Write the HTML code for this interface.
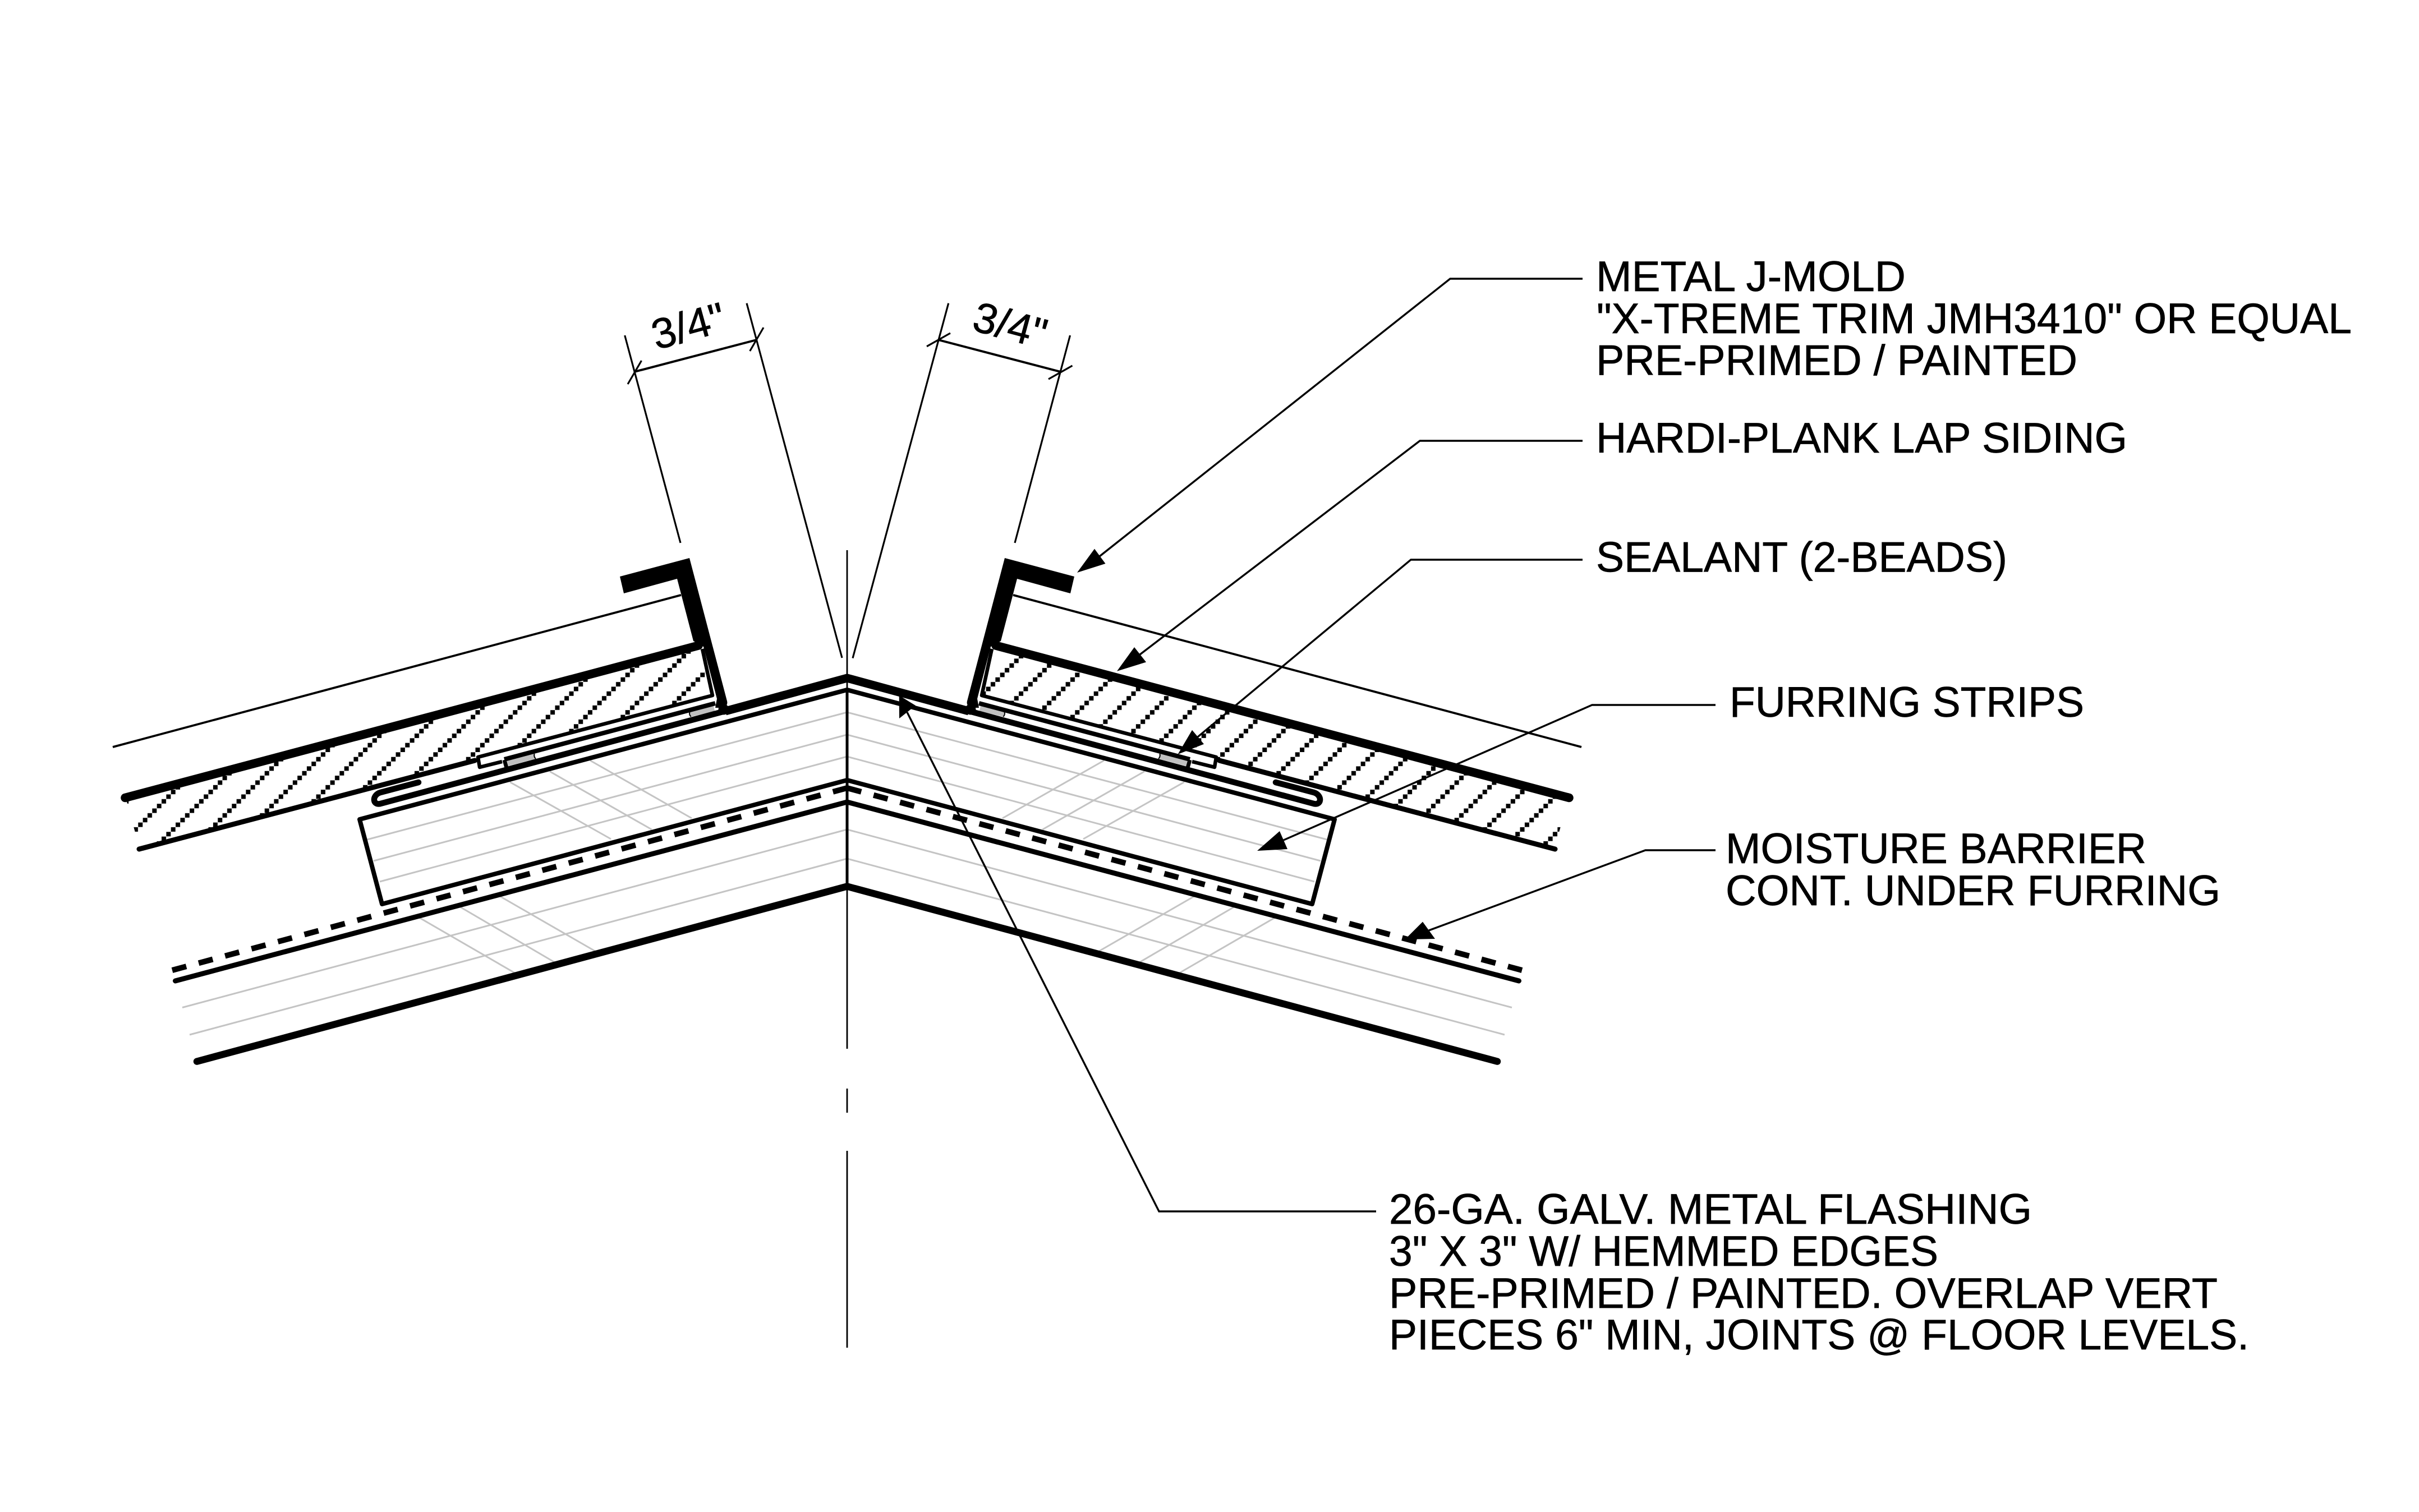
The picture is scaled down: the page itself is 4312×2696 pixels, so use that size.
<!DOCTYPE html>
<html lang="en">
<head>
<meta charset="utf-8">
<title>J-Mold Corner Detail</title>
<style>
html,body{margin:0;padding:0;background:#fff;}
svg{display:block;}
text{font-family:"Liberation Sans",Arial,sans-serif;font-size:76px;fill:#000;stroke:#000;stroke-width:0.7px;}
</style>
</head>
<body>
<svg xmlns="http://www.w3.org/2000/svg" width="4312" height="2696" viewBox="0 0 4312 2696">
<defs>
<pattern id="hatch" patternUnits="userSpaceOnUse" x="847.5" y="1266.2" width="66.8" height="66.8">
<rect x="0" y="0" width="8" height="8"/>
<rect x="8.35" y="58.45" width="8" height="8"/>
<rect x="16.7" y="50.1" width="8" height="8"/>
<rect x="25.05" y="41.75" width="8" height="8"/>
<rect x="33.4" y="33.4" width="8" height="8"/>
<rect x="41.75" y="25.05" width="8" height="8"/>
<rect x="50.1" y="16.7" width="8" height="8"/>
<rect x="58.45" y="8.35" width="8" height="8"/>
</pattern>
<g id="half">
<!-- gray wood grain -->
<g stroke="#c4c4c4" stroke-width="3" fill="none">
<path d="M654.5 1497L1510 1270M666 1535L1510 1310M677 1572L1510 1349"/>
<path d="M909 1394.5L1089 1496M980 1375.6L1161.6 1479M1052 1356L1233 1459"/>
<path d="M325 1796.5L1510 1479M338 1845L1510 1531"/>
<path d="M748 1636.6L918 1735M820 1617L989 1716M891 1598L1061 1696"/>
</g>
<!-- sealant beads -->
<polygon points="903.6,1356.7 952.7,1344 955,1353 906,1365.7" fill="#c0c0c0"/>
<polygon points="1229.5,1270 1272,1258 1274,1268 1231.7,1278" fill="#c0c0c0"/>
<path d="M952.7 1344Q951 1349 955 1353M1229.5 1270Q1228 1274 1231.7 1278" stroke="#000" stroke-width="2" fill="none"/>
<!-- thin top line -->
<path d="M201 1332L1214 1061" stroke="#000" stroke-width="3.8" fill="none"/>
<!-- hardi plank -->
<path d="M223 1422.5L1245 1151" stroke="#000" stroke-width="15.5" stroke-linecap="round" fill="none"/>
<path d="M248 1514L846.4 1356" stroke="#000" stroke-width="9" stroke-linecap="round" fill="none"/>
<path d="M1252 1157L1270 1240L852 1350L855 1368L895 1358" stroke="#000" stroke-width="6.5" fill="none" stroke-linejoin="round"/>
<!-- j-flange -->
<path d="M899 1354L1275 1254" stroke="#000" stroke-width="8" fill="none"/>
<path d="M899 1355L903 1369" stroke="#000" stroke-width="7" fill="none"/>
<!-- flashing with hem -->
<path d="M746 1395L678 1413C662 1418 664 1438 680 1432.5L1296 1267" stroke="#000" stroke-width="10.5" fill="none" stroke-linecap="round"/>
<!-- J-mold -->
<path d="M1105 1028L1229 995L1296 1250Q1298 1258 1290 1262L1275 1262L1278 1246L1254 1153L1236 1143L1207 1032L1112 1058Z" fill="#000"/>
<circle cx="1290" cy="1265" r="9.5" fill="#000"/>
<!-- moisture barrier -->
<path d="M307 1730L1510 1405" stroke="#000" stroke-width="10" fill="none" stroke-dasharray="26 22.8"/>
</g>
</defs>
<rect width="4312" height="2696" fill="#fff"/>

<!-- hatch -->
<polygon points="225,1426 1245,1153 1268,1240 852,1350 846,1357 248,1510" fill="url(#hatch)"/>
<polygon points="2795,1426 1775,1153 1752,1240 2168,1350 2174,1357 2772,1510" fill="url(#hatch)"/>

<use href="#half"/>
<use href="#half" transform="matrix(-1 0 0 1 3020 0)"/>

<!-- chevrons -->
<path d="M1293 1268L1510 1209L1727 1268" stroke="#000" stroke-width="15" fill="none" stroke-linejoin="miter"/>
<path d="M641 1461L1510 1230L2379 1461L2339 1612L1510 1391L681 1612Z" stroke="#000" stroke-width="8" fill="none" stroke-linejoin="round"/>
<path d="M312.5 1749L1510 1430L2707.5 1749" stroke="#000" stroke-width="9" fill="none" stroke-linecap="round"/>
<path d="M351 1892.6L1510 1580.5L2669 1892.6" stroke="#000" stroke-width="12.5" fill="none" stroke-linecap="round"/>

<!-- centre line -->
<path d="M1510 981V1870M1510 1941V1984M1510 2052V2403" stroke="#000" stroke-width="2.8" fill="none"/>
<path d="M1510 1230V1580" stroke="#000" stroke-width="5" fill="none"/>

<!-- dimensions -->
<g stroke="#000" fill="none">
<path d="M1113.7 598L1213 968M1331 540.7L1501 1173M1690.7 540.7L1520 1173.6M1907.5 598L1809 968" stroke-width="3.2"/>
<path d="M1130.6 663L1348.5 606M1672.7 606L1890.7 663" stroke-width="4"/>
<path d="M1119 685L1143.5 643M1336.7 626L1361 584M1652 617.7L1694 594M1869 676L1911.5 652" stroke-width="3.2"/>
</g>
<text x="1170" y="624" transform="rotate(-15.3 1170 624)">3/4"</text>
<text x="1730" y="588" transform="rotate(15 1730 588)">3/4"</text>

<!-- leaders -->
<g stroke="#000" stroke-width="3.4" fill="none">
<path d="M2821 497H2585L1960 992"/>
<path d="M2821 786H2531L2032 1167"/>
<path d="M2821 998H2515L2135 1314"/>
<path d="M3058 1257H2838L2288 1498"/>
<path d="M3058 1516H2933L2547 1659"/>
<path d="M2453 2160H2066L1617 1270"/>
</g>
<g fill="#000">
<polygon points="1920,1021 1951,978.6 1970.5,1005"/>
<polygon points="1991,1196.7 2022,1154 2043,1180.6"/>
<polygon points="2099.5,1345 2125,1301.7 2146,1326.7"/>
<polygon points="2241,1517 2281,1482 2295,1514"/>
<polygon points="2504.5,1675 2536,1643.6 2558,1674"/>
<polygon points="1602.7,1240 1603,1281 1632,1258"/>
</g>

<!-- labels -->
<text x="2845" y="519" textLength="552" lengthAdjust="spacingAndGlyphs">METAL J-MOLD</text>
<text x="2846" y="594" textLength="1346" lengthAdjust="spacingAndGlyphs">"X-TREME TRIM JMH3410" OR EQUAL</text>
<text x="2845" y="668.7" textLength="858" lengthAdjust="spacingAndGlyphs">PRE-PRIMED / PAINTED</text>
<text x="2845" y="807" textLength="947" lengthAdjust="spacingAndGlyphs">HARDI-PLANK LAP SIDING</text>
<text x="2845" y="1019.6" textLength="733" lengthAdjust="spacingAndGlyphs">SEALANT (2-BEADS)</text>
<text x="3083" y="1278" textLength="632" lengthAdjust="spacingAndGlyphs">FURRING STRIPS</text>
<text x="3076" y="1539" textLength="750" lengthAdjust="spacingAndGlyphs">MOISTURE BARRIER</text>
<text x="3076" y="1614" textLength="882" lengthAdjust="spacingAndGlyphs">CONT. UNDER FURRING</text>
<text x="2476" y="2182" textLength="1146" lengthAdjust="spacingAndGlyphs">26-GA. GALV. METAL FLASHING</text>
<text x="2476" y="2257" textLength="979" lengthAdjust="spacingAndGlyphs">3" X 3" W/ HEMMED EDGES</text>
<text x="2476" y="2332" textLength="1477" lengthAdjust="spacingAndGlyphs">PRE-PRIMED / PAINTED. OVERLAP VERT</text>
<text x="2476" y="2406" textLength="1533" lengthAdjust="spacingAndGlyphs">PIECES 6" MIN, JOINTS @ FLOOR LEVELS.</text>
</svg>
</body>
</html>
